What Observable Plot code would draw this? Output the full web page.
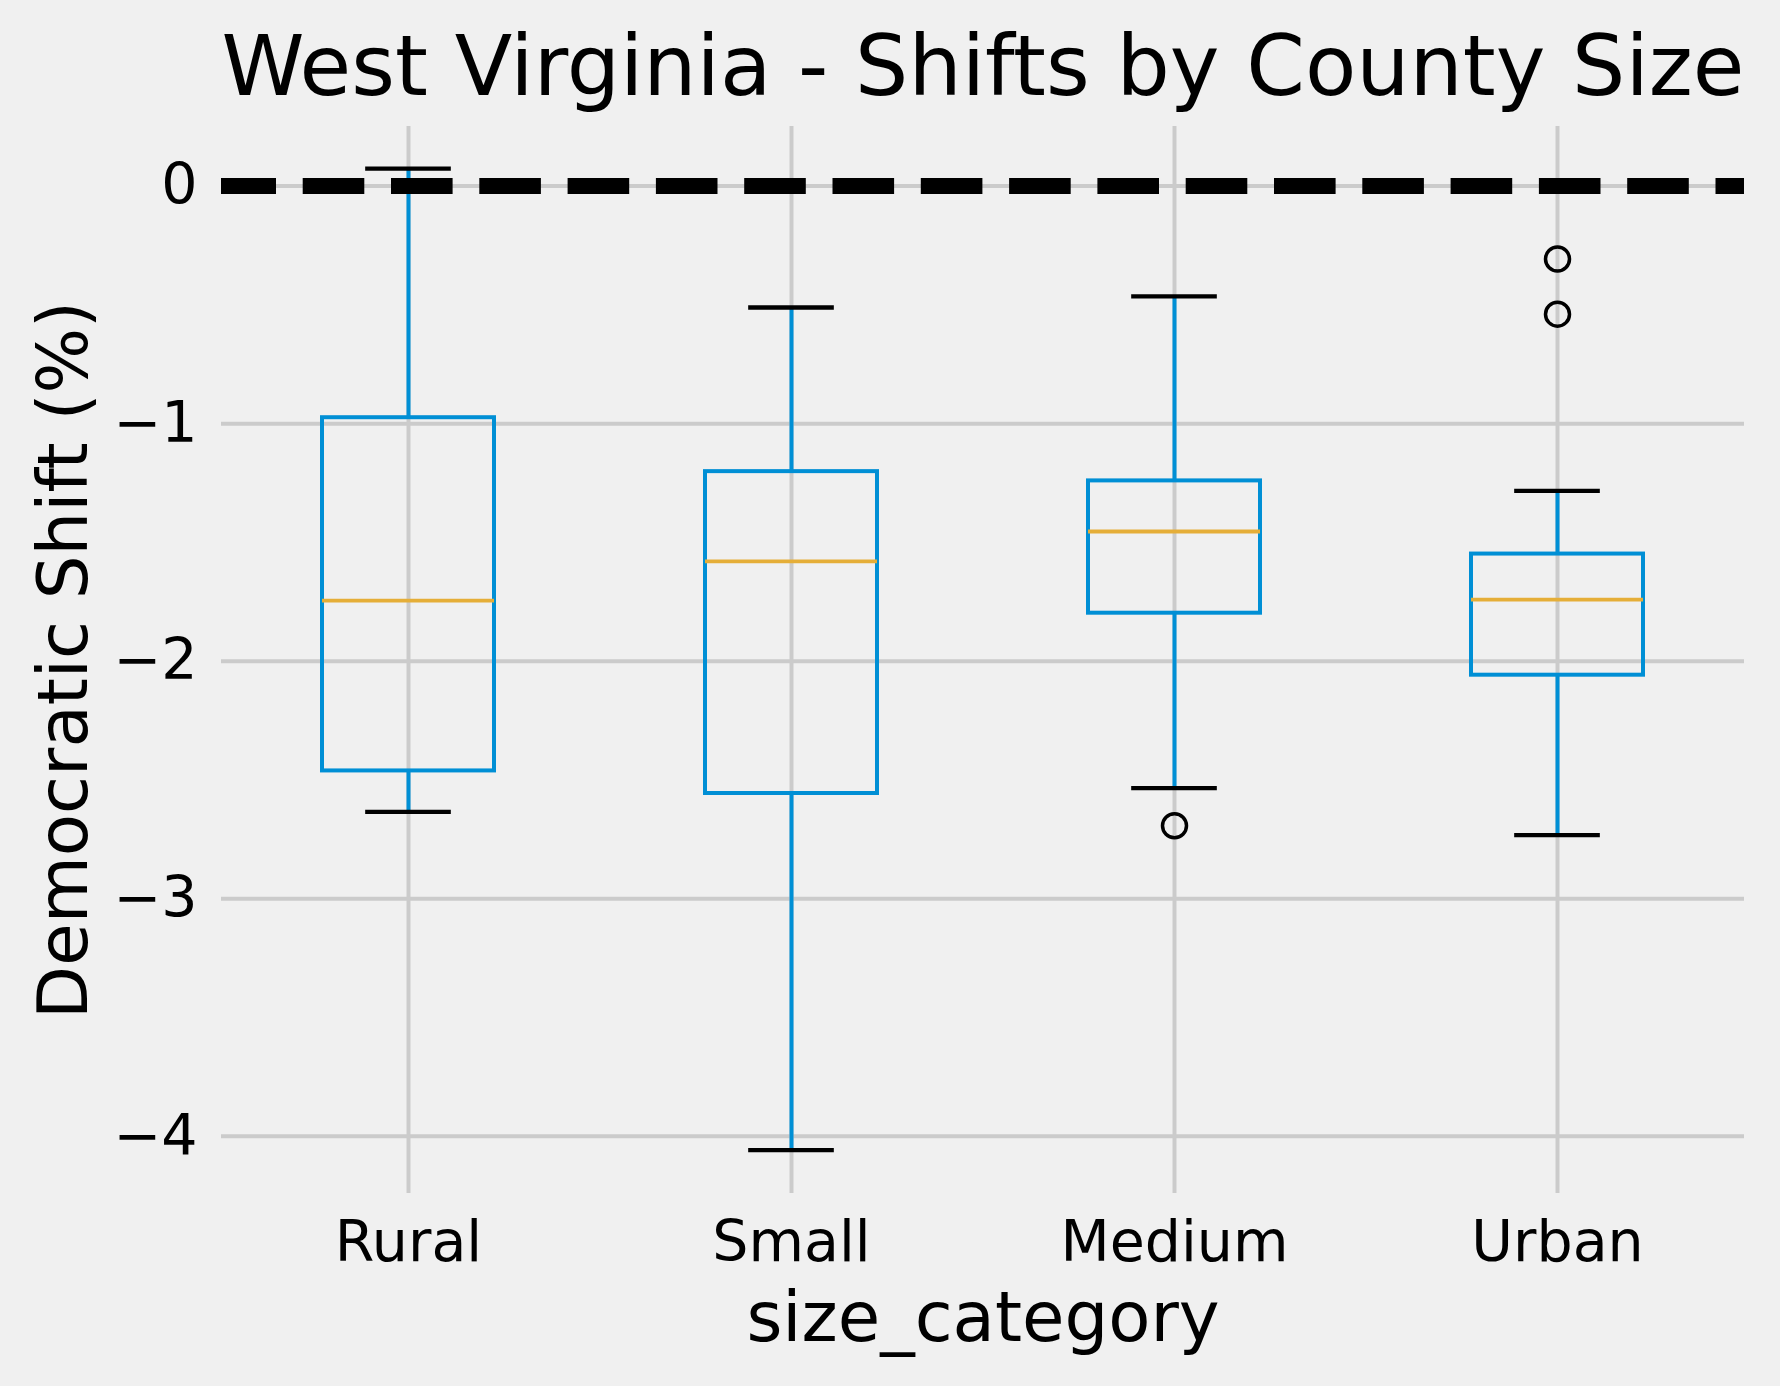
<!DOCTYPE html>
<html>
<head>
<meta charset="utf-8">
<script src="https://cdn.jsdelivr.net/npm/d3@7"></script>
<script src="https://cdn.jsdelivr.net/npm/@observablehq/plot@0.6"></script>
<style>
  html, body { margin: 0; padding: 0; background: #f0f0f0; }
</style>
</head>
<body>
<div id="chart"></div>
<script>
// ---- data ----
const categories = ["Rural", "Small", "Medium", "Urban"];
const q1Values = [-2.462, -2.557, -1.798, -2.059];
const medianValues = [-1.745, -1.580, -1.454, -1.741];
const q3Values = [-0.975, -1.202, -1.241, -1.549];
const whiskerLow = [-2.634, -4.058, -2.534, -2.732];
const whiskerHigh = [0.074, -0.511, -0.464, -1.283];
const outlierCategories = ["Medium", "Urban", "Urban"];
const outlierValues = [-2.693, -0.307, -0.539];
const yTicks = [0, -1, -2, -3, -4];
const titleText = "West Virginia - Shifts by County Size";
const xLabel = "size_category";
const yLabel = "Democratic Shift (%)";

// ---- tables built from the arrays ----
const boxes = categories.map((c, i) => ({
  category: c, q1: q1Values[i], median: medianValues[i], q3: q3Values[i],
  lo: whiskerLow[i], hi: whiskerHigh[i]
}));
const outliers = outlierCategories.map((c, i) => ({category: c, value: outlierValues[i]}));

const W = 1780, H = 1386;
const mL = 221, mR = 36, mT = 126, mB = 193;
const blue = "#008FD5", orange = "#E5AE38", grid = "#cbcbcb";
const pInner = 0.55, pOuter = 0.2594;
const step = (W - mL - mR) / (categories.length - pInner + 2 * pOuter);
const capInset = step * (1 - pInner) / 4;

const chart = Plot.plot({
  width: W,
  height: H,
  marginLeft: mL, marginRight: mR, marginTop: mT, marginBottom: mB,
  style: {background: "#f0f0f0", fontFamily: "'DejaVu Sans', sans-serif", fontSize: "57px", color: "black"},
  x: {type: "band", domain: categories, paddingInner: pInner, paddingOuter: pOuter, label: null, tickSize: 0, tickPadding: 27},
  y: {domain: [-4.241, 0.251], ticks: yTicks, tickSize: 0, tickPadding: 24, label: null,
      tickFormat: d => d < 0 ? "\u2212" + Math.abs(d) : String(d)},
  marks: [
    Plot.ruleY(yTicks, {stroke: grid, strokeWidth: 4}),
    Plot.ruleX(categories, {x: d => d, stroke: grid, strokeWidth: 4}),
    Plot.barY(boxes, {x: "category", y1: "q1", y2: "q3", fill: "none", stroke: blue, strokeWidth: 4}),
    Plot.ruleX(boxes, {x: "category", y1: "q3", y2: "hi", stroke: blue, strokeWidth: 4}),
    Plot.ruleX(boxes, {x: "category", y1: "lo", y2: "q1", stroke: blue, strokeWidth: 4}),
    Plot.tickY(boxes, {x: "category", y: "hi", stroke: "black", strokeWidth: 4.3, insetLeft: capInset, insetRight: capInset}),
    Plot.tickY(boxes, {x: "category", y: "lo", stroke: "black", strokeWidth: 4.3, insetLeft: capInset, insetRight: capInset}),
    Plot.tickY(boxes, {x: "category", y: "median", stroke: orange, strokeWidth: 3.8}),
    Plot.dot(outliers, {x: "category", y: "value", r: 12, stroke: "black", strokeWidth: 3.5, fill: "none"}),
    Plot.ruleY([0], {stroke: "black", strokeWidth: 16, strokeDasharray: "61.6,26.7", strokeDashoffset: 6.6}),
    Plot.text([titleText], {frameAnchor: "top", textAnchor: "middle", lineAnchor: "middle", dy: -58, fontSize: 84, fill: "black"}),
    Plot.text([xLabel], {frameAnchor: "bottom", textAnchor: "middle", lineAnchor: "middle", dy: 125, fontSize: 69, fill: "black"}),
    Plot.text([yLabel], {frameAnchor: "left", textAnchor: "middle", lineAnchor: "middle", dx: -157, rotate: -90, fontSize: 69, fill: "black"})
  ]
});
document.getElementById("chart").appendChild(chart);
</script>
</body>
</html>
